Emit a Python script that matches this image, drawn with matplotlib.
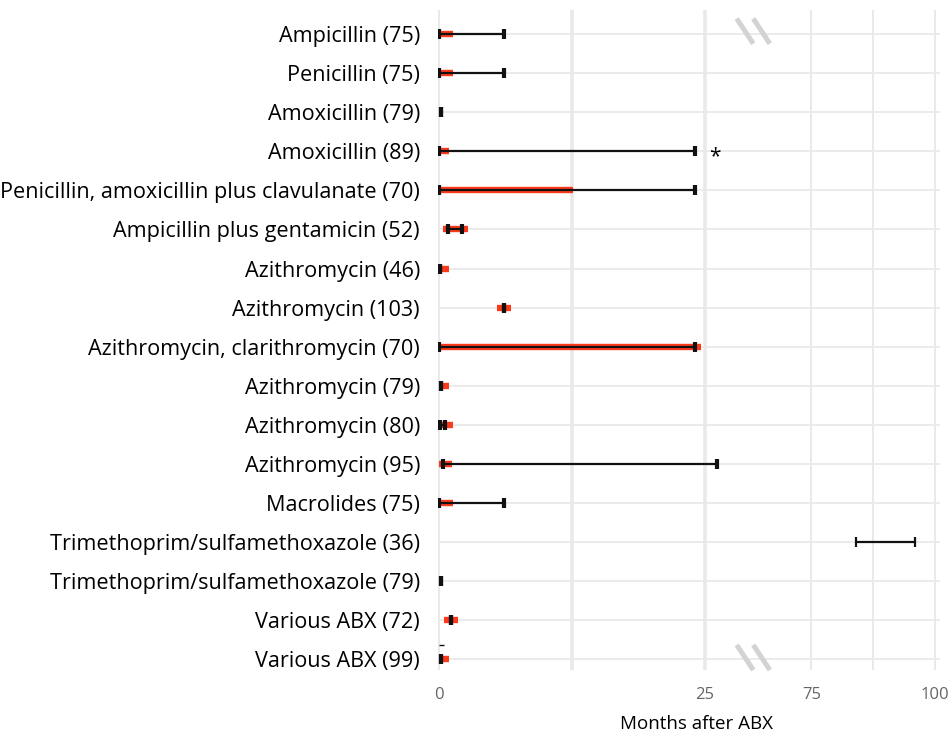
import numpy as np
import matplotlib
matplotlib.use("Agg")
import matplotlib.pyplot as plt
from matplotlib.scale import FuncScale

labels = [
    "Ampicillin (75)", "Penicillin (75)", "Amoxicillin (79)", "Amoxicillin (89)",
    "Penicillin, amoxicillin plus clavulanate (70)", "Ampicillin plus gentamicin (52)",
    "Azithromycin (46)", "Azithromycin (103)", "Azithromycin, clarithromycin (70)",
    "Azithromycin (79)", "Azithromycin (80)", "Azithromycin (95)", "Macrolides (75)",
    "Trimethoprim/sulfamethoxazole (36)", "Trimethoprim/sulfamethoxazole (79)",
    "Various ABX (72)", "Various ABX (99)",
]
# red bands; NaN = none
red_start = [0, 0, np.nan, 0, 0, 0.4, 0, 5.5, 0, 0, 0, 0, 0, np.nan, np.nan, 0.45, 0]
red_end   = [1.3, 1.3, np.nan, 0.9, 12.6, 2.7, 0.9, 6.8, 24.7, 0.9, 1.3, 1.2, 1.3, np.nan, np.nan, 1.75, 0.9]
# black ranges
blk_start = [0, 0, 0.2, 0, 0, 0.8, 0.1, 6.1, 0, 0.2, 0.1, 0.4, 0, 84, 0.2, 1.1, 0.2]
blk_end   = [6.1, 6.1, 0.2, 24.1, 24.1, 2.2, 0.1, 6.1, 24.1, 0.2, 0.6, 31, 6.1, 96, 0.2, 1.1, 0.2]
thin_caps = [13]
star_row = 3
xticks = [0, 25, 75, 100]
grid_major = [12.5, 25]
grid_minor = [0, 75, 87.5, 100]

# broken axis: 0-25 linear, 25-75 compressed, 75-100 half-scale
G = 10.06
K = 0.466

def fwd(x):
    x = np.asarray(x, dtype=float)
    return np.where(x <= 25, x,
           np.where(x < 75, 25 + (x - 25) * G / 50, 25 + G + (x - 75) * K))

def inv(u):
    u = np.asarray(u, dtype=float)
    return np.where(u <= 25, u,
           np.where(u < 25 + G, 25 + (u - 25) * 50 / G, 75 + (u - 25 - G) / K))

plt.rcParams['font.family'] = ['Open Sans', 'DejaVu Sans']
fig = plt.figure(figsize=(9.48, 7.32), dpi=100)
ax = fig.add_axes([438/948, 1 - 670/732, (940-438)/948, 660/732])
ax.set_xscale(FuncScale(ax, (fwd, inv)))
ax.set_xlim(-0.1, 101)
n = len(labels)
ax.set_ylim(16.28, -0.62)

for s in ax.spines.values():
    s.set_visible(False)

grid_c = '#e9e9e9'
for i in range(n):
    ax.axhline(i, color=grid_c, lw=1.3, zorder=0)
for g in grid_major:
    ax.axvline(g, color=grid_c, lw=2.6, zorder=0)
for g in grid_minor:
    ax.axvline(g, color=grid_c, lw=1.4, zorder=0)

red_c = '#fb3a1c'
for i in range(n):
    if not np.isnan(red_start[i]):
        ax.hlines(i, red_start[i], red_end[i], color=red_c, lw=4.6, zorder=2)
    ax.hlines(i, blk_start[i], blk_end[i], color='#111111', lw=1.6, zorder=3)
    if i in thin_caps:
        ax.plot([blk_start[i], blk_end[i]], [i, i], ls='none', marker='|',
                ms=7, mew=1.6, color='#111111', zorder=4)
    else:
        ax.plot([blk_start[i], blk_end[i]], [i, i], ls='none', marker='|',
                ms=7.5, mew=3, color='#111111', zorder=4)

# small dash above last row
ax.hlines(n - 1 - 0.36, 0, 0.45, color='#111111', lw=1, zorder=3)

ax.annotate('*', xy=(blk_end[star_row], star_row), xytext=(14, -4),
            textcoords='offset points', fontsize=15, va='center', ha='center')

# break marks
bc = '#d3d3d3'
for y0, y1 in [(0.949, 0.987), (0.0, 0.038)]:
    for x0 in (0.595, 0.628):
        ax.plot([x0, x0 + 0.033], [y1, y0], transform=ax.transAxes,
                color=bc, lw=3.6, solid_capstyle='butt', clip_on=False, zorder=1)

ax.set_yticks(range(n))
ax.set_yticklabels(labels, fontsize=15.6)
ax.set_xticks(xticks)
ax.set_xticklabels([str(t) for t in xticks], fontsize=12, color='#666666')
ax.tick_params(axis='y', length=0, pad=13)
ax.tick_params(axis='x', length=0, pad=12)
fig.text(696/948, 3/732, 'Months after ABX', fontsize=13.5,
         ha='center', va='baseline')

fig.savefig('out.png', dpi=100)
